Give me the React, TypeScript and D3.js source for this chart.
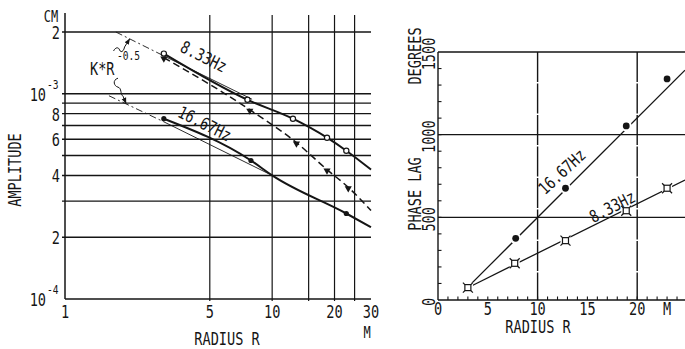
import React from "react";
import * as d3 from "d3";

// ---------- amplitude vs radius (log-log) ----------
const ampGridValues = [2e-3, 1e-3, 9e-4, 8e-4, 7e-4, 6e-4, 5e-4, 4e-4, 3e-4, 2e-4];
const ampTickValues = [2e-3, 1e-3, 8e-4, 6e-4, 4e-4, 2e-4, 1e-4];
const ampTickLabels = ["2", "10", "8", "6", "4", "2", "10"];
const ampTickPowers = ["", "-3", "", "", "", "", "-4"];
const radiusGridValues = [5, 10, 15, 20, 25];
const radiusTickValues = [1, 5, 10, 20, 30];

// 8.33 Hz, solid line with open circles
const amp833R = [3, 7.6, 12.6, 18.4, 22.8];
const amp833 = [1.57e-3, 9.35e-4, 7.56e-4, 6.11e-4, 5.28e-4];
const amp833LineR = [3, 7.6, 12.6, 18.4, 22.8, 30];
const amp833Line = [1.57e-3, 9.35e-4, 7.56e-4, 6.11e-4, 5.28e-4, 4.27e-4];

// 8.33 Hz, dashed line with small triangles
const amp833bR = [3, 7.8, 13.1, 18.4, 23.3];
const amp833b = [1.5e-3, 8.36e-4, 5.78e-4, 4.27e-4, 3.5e-4];
const amp833bLineR = [3, 7.8, 13.1, 18.4, 23.3, 30];
const amp833bLine = [1.5e-3, 8.36e-4, 5.78e-4, 4.27e-4, 3.5e-4, 2.7e-4];

// 16.67 Hz, solid line with dots
const amp1667R = [3, 7.9, 22.8];
const amp1667 = [7.56e-4, 4.73e-4, 2.61e-4];
const amp1667LineR = [3, 7.9, 10, 22.8, 30];
const amp1667Line = [7.56e-4, 4.73e-4, 4.0e-4, 2.61e-4, 2.24e-4];

// K*R^-0.5 reference lines
const kUpperR = [1.76, 3, 8];
const kUpper = [2.0e-3, 1.53e-3, 9.4e-4];
const kLowerR = [1.63, 3, 10];
const kLower = [9.78e-4, 7.3e-4, 4.0e-4];

// ---------- phase lag vs radius ----------
const phaseXTicks = [0, 5, 10, 15, 20];
const phaseYTicks = [0, 500, 1000, 1500];
const phaseR1667 = [3, 7.8, 12.8, 18.9, 23.0];
const phase1667 = [75, 373, 676, 1053, 1337];
const phaseR833 = [3, 7.7, 12.8, 18.9, 23.0];
const phase833 = [75, 222, 359, 540, 676];
const fitR1667 = [3.2, 24.8];
const fit1667 = [90, 1390];
const fitR833 = [3.2, 24.8];
const fit833 = [80, 726];

const FONT = "DejaVu Sans Mono, Liberation Mono, monospace";
const INK = "#151515";

function Txt(props: any) {
  const { x, y, rot = 0, anchor = "middle", size = 17, sx = 0.8, children } = props;
  return (
    <g transform={`translate(${x},${y}) rotate(${rot}) scale(${sx},1)`}>
      <text textAnchor={anchor} fontSize={size} fontFamily={FONT} fill={INK}>
        {children}
      </text>
    </g>
  );
}

export default function App() {
  const ax = d3.scaleLog().domain([1, 30]).range([65, 371]);
  const ay = d3.scaleLog().domain([1e-4, 2e-3]).range([299, 32]);
  const px = d3.scaleLinear().domain([0, 24.8]).range([438, 685]);
  const py = d3.scaleLinear().domain([0, 1500]).range([300, 52]);

  const logLine = (rs: number[], vs: number[], curve: any = d3.curveMonotoneX) =>
    d3.line<number>().x((_, i) => ax(rs[i])).y((_, i) => ay(vs[i])).curve(curve)(vs) || "";
  const linLine = (rs: number[], vs: number[]) =>
    d3.line<number>().x((_, i) => px(rs[i])).y((_, i) => py(vs[i]))(vs) || "";

  const tri = d3.symbol().type(d3.symbolTriangle).size(22)() || "";

  const tipU = [ax(2.05), ay(1.85e-3)];
  const tipL = [ax(1.97), ay(9.0e-4)];

  return (
    <svg width={685} height={349} style={{ position: "absolute", left: 0, top: 0, background: "#fff" }}>
      <defs>
        <marker id="arr" viewBox="0 0 10 10" refX="9" refY="5" markerWidth="6" markerHeight="6" orient="auto">
          <path d="M0,1 L10,5 L0,9 z" fill={INK} />
        </marker>
      </defs>
      <rect width={685} height={349} fill="#fff" />

      {/* ===== left chart ===== */}
      <g stroke={INK} fill="none">
        {ampGridValues.map((v) => (
          <line key={"ag" + v} x1={62} x2={ax(30)} y1={ay(v)} y2={ay(v)} strokeWidth={1.4} />
        ))}
        {radiusGridValues.map((v) => (
          <line key={"rg" + v} x1={ax(v)} x2={ax(v)} y1={15} y2={301} strokeWidth={1.2} />
        ))}
        <line x1={ax(1)} x2={ax(1)} y1={13} y2={ay(1e-4)} strokeWidth={1.5} />
        <line x1={ax(1)} x2={ax(30)} y1={ay(1e-4)} y2={ay(1e-4)} strokeWidth={1.6} />
      </g>

      {/* reference lines K*R^-0.5 */}
      <g stroke={INK} fill="none" strokeWidth={0.9}>
        <path d={logLine(kUpperR.slice(0, 2), kUpper.slice(0, 2), d3.curveLinear)} strokeDasharray="7,3,2,3" />
        <path d={logLine(kUpperR.slice(1), kUpper.slice(1), d3.curveLinear)} />
        <path d={logLine(kLowerR.slice(0, 2), kLower.slice(0, 2), d3.curveLinear)} strokeDasharray="7,3,2,3" />
        <path d={logLine(kLowerR.slice(1), kLower.slice(1), d3.curveLinear)} />
      </g>

      {/* data curves */}
      <g stroke={INK} fill="none">
        <path d={logLine(amp833LineR, amp833Line)} strokeWidth={2} />
        <path d={logLine(amp833bLineR, amp833bLine)} strokeWidth={1.5} strokeDasharray="7,4" />
        <path d={logLine(amp1667LineR, amp1667Line)} strokeWidth={2} />
      </g>
      {amp833R.map((r, i) => (
        <circle key={"c" + i} cx={ax(r)} cy={ay(amp833[i])} r={2.6} fill="#fff" stroke={INK} strokeWidth={1.2} />
      ))}
      {amp833bR.map((r, i) => (
        <path key={"t" + i} d={tri} transform={`translate(${ax(r)},${ay(amp833b[i]) + 1}) rotate(180)`} fill={INK} />
      ))}
      {amp1667R.map((r, i) => (
        <circle key={"d" + i} cx={ax(r)} cy={ay(amp1667[i])} r={2.6} fill={INK} />
      ))}

      {/* annotation */}
      <g stroke={INK} fill="none" strokeWidth={1}>
        <path
          d={`M${tipU[0] - 16},${tipU[1] + 12} c 2,-4 5,-4 6,-1 s 4,2 5,-3 L${tipU[0]},${tipU[1]}`}
          markerEnd="url(#arr)"
        />
        <path
          d={`M${tipL[0] - 8},${tipL[1] - 25} C${tipL[0] - 14},${tipL[1] - 23} ${tipL[0] - 12},${tipL[1] - 17} ${tipL[0] - 8},${tipL[1] - 16} C${tipL[0] - 4},${tipL[1] - 15} ${tipL[0] - 6},${tipL[1] - 9} ${tipL[0] - 3},${tipL[1] - 7} L${tipL[0]},${tipL[1]}`}
          markerEnd="url(#arr)"
        />
      </g>
      <Txt x={90} y={75} anchor="start">K*R</Txt>
      <Txt x={117} y={60} anchor="start" size={12}>-0.5</Txt>

      <Txt x={201} y={62} rot={26.6}>8.33Hz</Txt>
      <Txt x={202} y={129} rot={26.6}>16.67Hz</Txt>

      {/* left axes labels */}
      <Txt x={51} y={22} size={15}>CM</Txt>
      {ampTickValues.map((v, i) =>
        ampTickPowers[i] ? (
          <g key={"al" + i}>
            <Txt x={46} y={ay(v) + 7} anchor="end">{ampTickLabels[i]}</Txt>
            <Txt x={47} y={ay(v) - 5} anchor="start" size={12}>{ampTickPowers[i]}</Txt>
          </g>
        ) : (
          <Txt key={"al" + i} x={60} y={ay(v) + 7} anchor="end">{ampTickLabels[i]}</Txt>
        )
      )}
      {radiusTickValues.map((v) => (
        <Txt key={"rl" + v} x={ax(v)} y={318}>{String(v)}</Txt>
      ))}
      <Txt x={367} y={338} size={15}>M</Txt>
      <Txt x={227} y={345}>RADIUS R</Txt>
      <Txt x={21} y={170} rot={-90}>AMPLITUDE</Txt>

      {/* ===== right chart ===== */}
      <g stroke={INK} fill="none" strokeWidth={1.4}>
        {phaseYTicks.slice(1).map((v) => (
          <line key={"pg" + v} x1={px(0)} x2={685} y1={py(v)} y2={py(v)} />
        ))}
        {[10, 20].map((v) => (
          <line key={"vg" + v} x1={px(v)} x2={px(v)} y1={py(1500)} y2={py(0)} strokeDasharray="30,1.5" />
        ))}
        <line x1={px(0)} x2={px(0)} y1={py(1500)} y2={py(0)} />
        <line x1={px(0)} x2={685} y1={py(0)} y2={py(0)} strokeWidth={1.6} />
        {d3.range(1, 25).map((v) => (
          <line key={"xt" + v} x1={px(v)} x2={px(v)} y1={py(0)} y2={py(0) - 3.5} strokeWidth={1.1} />
        ))}
        {d3.range(100, 1500, 100).map((v) => (
          <line key={"yt" + v} x1={px(0)} x2={px(0) + 3.5} y1={py(v)} y2={py(v)} strokeWidth={1.1} />
        ))}
      </g>

      <g stroke={INK} fill="none" strokeWidth={1.3}>
        <path d={linLine(fitR1667, fit1667)} />
        <path d={linLine(fitR833, fit833)} />
      </g>
      {phaseR1667.map((r, i) => (
        <g key={"pd" + i}>
          <circle cx={px(r)} cy={py(phase1667[i])} r={5.5} fill="#fff" />
          <circle cx={px(r)} cy={py(phase1667[i])} r={3.4} fill={INK} />
        </g>
      ))}
      {phaseR833.map((r, i) => {
        const cx = px(r);
        const cy = py(phase833[i]);
        return (
          <g key={"ps" + i} stroke={INK} strokeWidth={1.2}>
            <rect x={cx - 5} y={cy - 5} width={10} height={10} fill="#fff" stroke="none" />
            <rect x={cx - 3} y={cy - 3} width={6} height={6} fill="none" />
            <path d={`M${cx - 3},${cy - 3}l-2,-2M${cx + 3},${cy - 3}l2,-2M${cx - 3},${cy + 3}l-2,2M${cx + 3},${cy + 3}l2,2`} />
          </g>
        );
      })}

      <Txt x={566} y={176} rot={-43}>16.67Hz</Txt>
      <Txt x={615} y={212} rot={-27}>8.33Hz</Txt>

      {phaseYTicks.map((v) => (
        <Txt key={"py" + v} x={435} y={py(v) + 2} rot={-90}>{String(v)}</Txt>
      ))}
      {phaseXTicks.map((v) => (
        <Txt key={"px" + v} x={px(v)} y={315}>{String(v)}</Txt>
      ))}
      <Txt x={667} y={315}>M</Txt>
      <Txt x={538} y={333}>RADIUS R</Txt>
      <Txt x={421} y={56} rot={-90}>DEGREES</Txt>
      <Txt x={421} y={194} rot={-90}>PHASE LAG</Txt>
    </svg>
  );
}
